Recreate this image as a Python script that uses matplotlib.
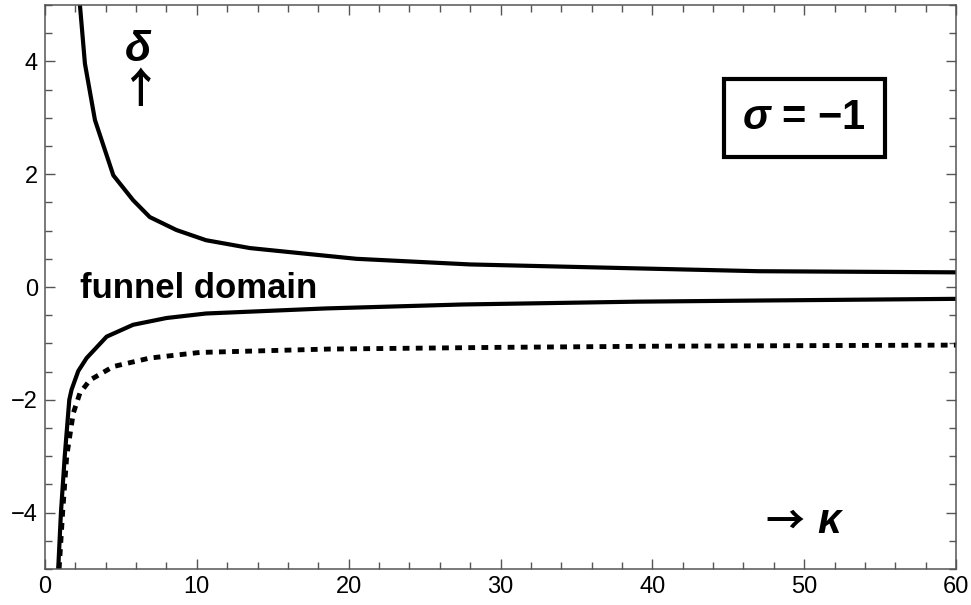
import numpy as np
import matplotlib
matplotlib.use('Agg')
from matplotlib import pyplot as plt
from matplotlib.ticker import MultipleLocator

plt.rcParams['font.family'] = ['Liberation Sans', 'DejaVu Sans']
plt.rcParams['mathtext.fontset'] = 'custom'
plt.rcParams['mathtext.it'] = 'Liberation Sans:italic:bold'
plt.rcParams['mathtext.rm'] = 'Liberation Sans:bold'
plt.rcParams['mathtext.bf'] = 'Liberation Sans:bold'

# curve values (kappa, delta)
upper_k = [2.3, 2.63, 3.29, 4.5, 5.8, 6.9, 8.66, 10.6, 13.5, 16.8, 20.5, 28.0, 39.0, 47.0, 60.0]
upper_d = [5.0, 3.96, 2.96, 1.98, 1.54, 1.24, 1.01, 0.83, 0.69, 0.60, 0.50, 0.40, 0.33, 0.28, 0.26]

lower_k = [0.87, 1.05, 1.3, 1.6, 1.75, 2.19, 2.74, 4.06, 5.8, 8.0, 10.6, 18.5, 27.5, 39.0, 47.0, 60.0]
lower_d = [-5.0, -4.0, -3.0, -2.0, -1.82, -1.49, -1.26, -0.88, -0.67, -0.55, -0.47, -0.38, -0.31, -0.26, -0.24, -0.21]

dot_k = [0.93, 1.16, 1.43, 1.86, 2.3, 2.96, 4.5, 6.9, 10.2, 18.75, 30.0, 40.0, 60.0]
dot_d = [-5.0, -4.0, -3.0, -2.24, -1.88, -1.65, -1.41, -1.26, -1.16, -1.10, -1.07, -1.05, -1.03]

x_range = (0, 60)
y_range = (-5, 5)

fig = plt.figure(figsize=(9.71, 6.05), dpi=100)
ax = fig.add_axes([45/971, 1-569/605, (956-45)/971, (569-5)/605])

ax.plot(upper_k, upper_d, color='black', lw=3.0, solid_joinstyle='round')
ax.plot(lower_k, lower_d, color='black', lw=3.0, solid_joinstyle='round')
ax.plot(dot_k, dot_d, color='black', lw=3.5, dashes=(1.4, 1.3))

ax.set_xlim(*x_range)
ax.set_ylim(*y_range)

ax.xaxis.set_major_locator(MultipleLocator(10))
ax.xaxis.set_minor_locator(MultipleLocator(2))
ax.yaxis.set_major_locator(MultipleLocator(2))
ax.yaxis.set_minor_locator(MultipleLocator(0.5))
ax.tick_params(which='both', direction='in', top=True, right=True,
               color='#555555', labelsize=17, width=1)
ax.tick_params(which='major', length=7.5)
ax.tick_params(which='minor', length=5)
ax.tick_params(axis='x', pad=5)
ax.tick_params(axis='y', pad=5)
for s in ax.spines.values():
    s.set_color('#555555')
    s.set_linewidth(1.1)

# labels
ax.text(6.13, 4.2, 'δ', fontsize=31, fontweight='bold', style='italic',
        ha='center', va='center')
ax.text(6.25, 3.47, '↑', fontsize=30, fontweight='bold', ha='center', va='center',
        family=['Noto Sans CJK JP'])
ax.text(2.3, -0.195, 'funnel domain', fontsize=25, fontweight='bold',
        ha='left', va='baseline')
ax.text(50.0, 3.0, r'$\sigma$ = −1', fontsize=30, fontweight='bold',
        ha='center', va='center',
        bbox=dict(boxstyle='square,pad=0.45', fc='white', ec='black', lw=3.0))
ax.text(48.7, -4.17, '→', fontsize=28, fontweight='bold', ha='center', va='center',
        family=['Noto Sans CJK JP'])
ax.text(51.65, -4.17, 'κ', fontsize=30, fontweight='bold', style='italic',
        ha='center', va='center')

fig.savefig('out.png', dpi=100)
